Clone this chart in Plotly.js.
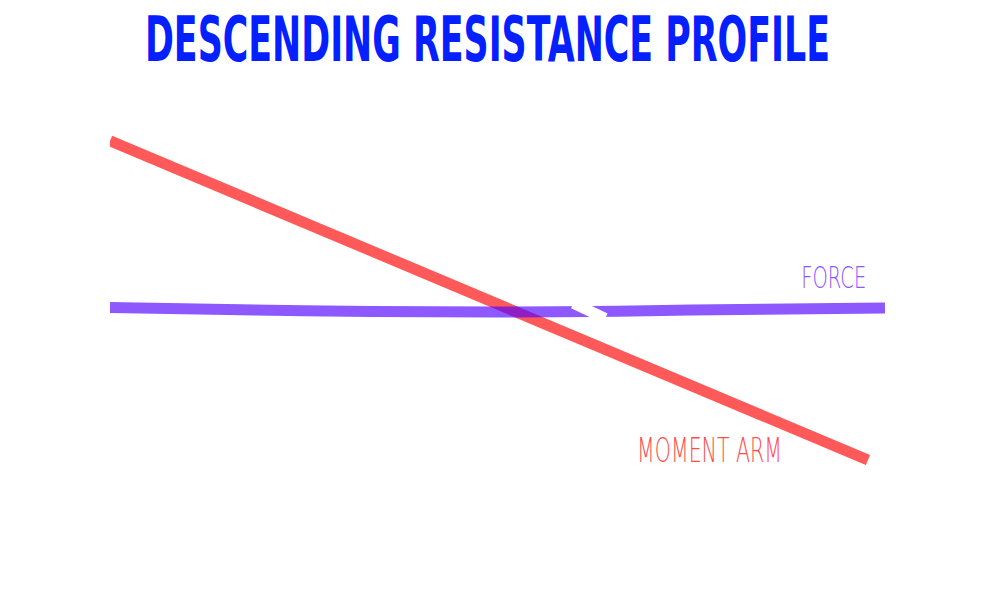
<!DOCTYPE html>
<html>
<head>
<meta charset="utf-8">
<script src="https://cdn.plot.ly/plotly-3.0.1.min.js"></script>
<style>
  html, body { margin: 0; padding: 0; background: #fff; }
  #chart { width: 1003px; height: 606px; }
</style>
</head>
<body>
<div id="chart"></div>
<script>
// range of motion (0 = start, 100 = end), resistance in arbitrary units
var forceX = [0, 25, 50, 62, 75, 100];
var forceY = [48.1, 47.3, 47.0, 47.1, 47.5, 48.0];

var armX = [0, 97.8];
var armY = [89.8, 10];

// small white break in the force line seen in the original drawing
var gapX = [59.8, 63.9];
var gapY = [49.2, 45.4];

var labels = ['FORCE', 'MOMENT ARM'];

var red = 'rgba(255,0,0,0.65)';
var purple = 'rgba(80,0,255,0.65)';

var traces = [
  { x: armX, y: armY, mode: 'lines', line: { color: red, width: 11 }, hoverinfo: 'skip' },
  { x: forceX, y: forceY, mode: 'lines', line: { color: purple, width: 11, shape: 'spline' }, hoverinfo: 'skip' },
  { x: gapX, y: gapY, mode: 'lines', line: { color: '#ffffff', width: 11 }, hoverinfo: 'skip' }
];

var layout = {
  width: 1003,
  height: 606,
  margin: { l: 110, r: 118, t: 100, b: 106 },
  paper_bgcolor: '#ffffff',
  plot_bgcolor: '#ffffff',
  showlegend: false,
  title: {
    text: '<b>DESCENDING RESISTANCE PROFILE</b>',
    x: 0.486, xanchor: 'center',
    yref: 'container', y: 0.935, yanchor: 'middle',
    font: { family: 'DejaVu Sans', stretch: 'condensed', size: 62, color: '#0520ff' }
  },
  xaxis: { range: [0, 100], visible: false, fixedrange: true },
  yaxis: { range: [0, 100], visible: false, fixedrange: true },
  annotations: [
    { x: 93.4, y: 55.8, xref: 'x', yref: 'y', text: labels[0], showarrow: false,
      font: { family: 'DejaVu Sans', weight: 200, stretch: 'condensed', size: 31, color: 'rgb(140,85,255)' } },
    { x: 77.4, y: 12.3, xref: 'x', yref: 'y', text: labels[1], showarrow: false,
      font: { family: 'DejaVu Sans', weight: 200, stretch: 'condensed', size: 33, color: 'rgb(255,75,75)' } }
  ]
};

// squeeze text to the narrow widths of the original lettering
function squeeze(el, w) {
  if (!el) return;
  el.setAttribute('textLength', w);
  el.setAttribute('lengthAdjust', 'spacingAndGlyphs');
}

Plotly.newPlot('chart', traces, layout, { displayModeBar: false, staticPlot: true }).then(function (gd) {
  squeeze(gd.querySelector('.gtitle'), 685);
  var ann = gd.querySelectorAll('.annotation-text');
  squeeze(ann[0], 65);
  squeeze(ann[1], 145);
});
</script>
</body>
</html>
